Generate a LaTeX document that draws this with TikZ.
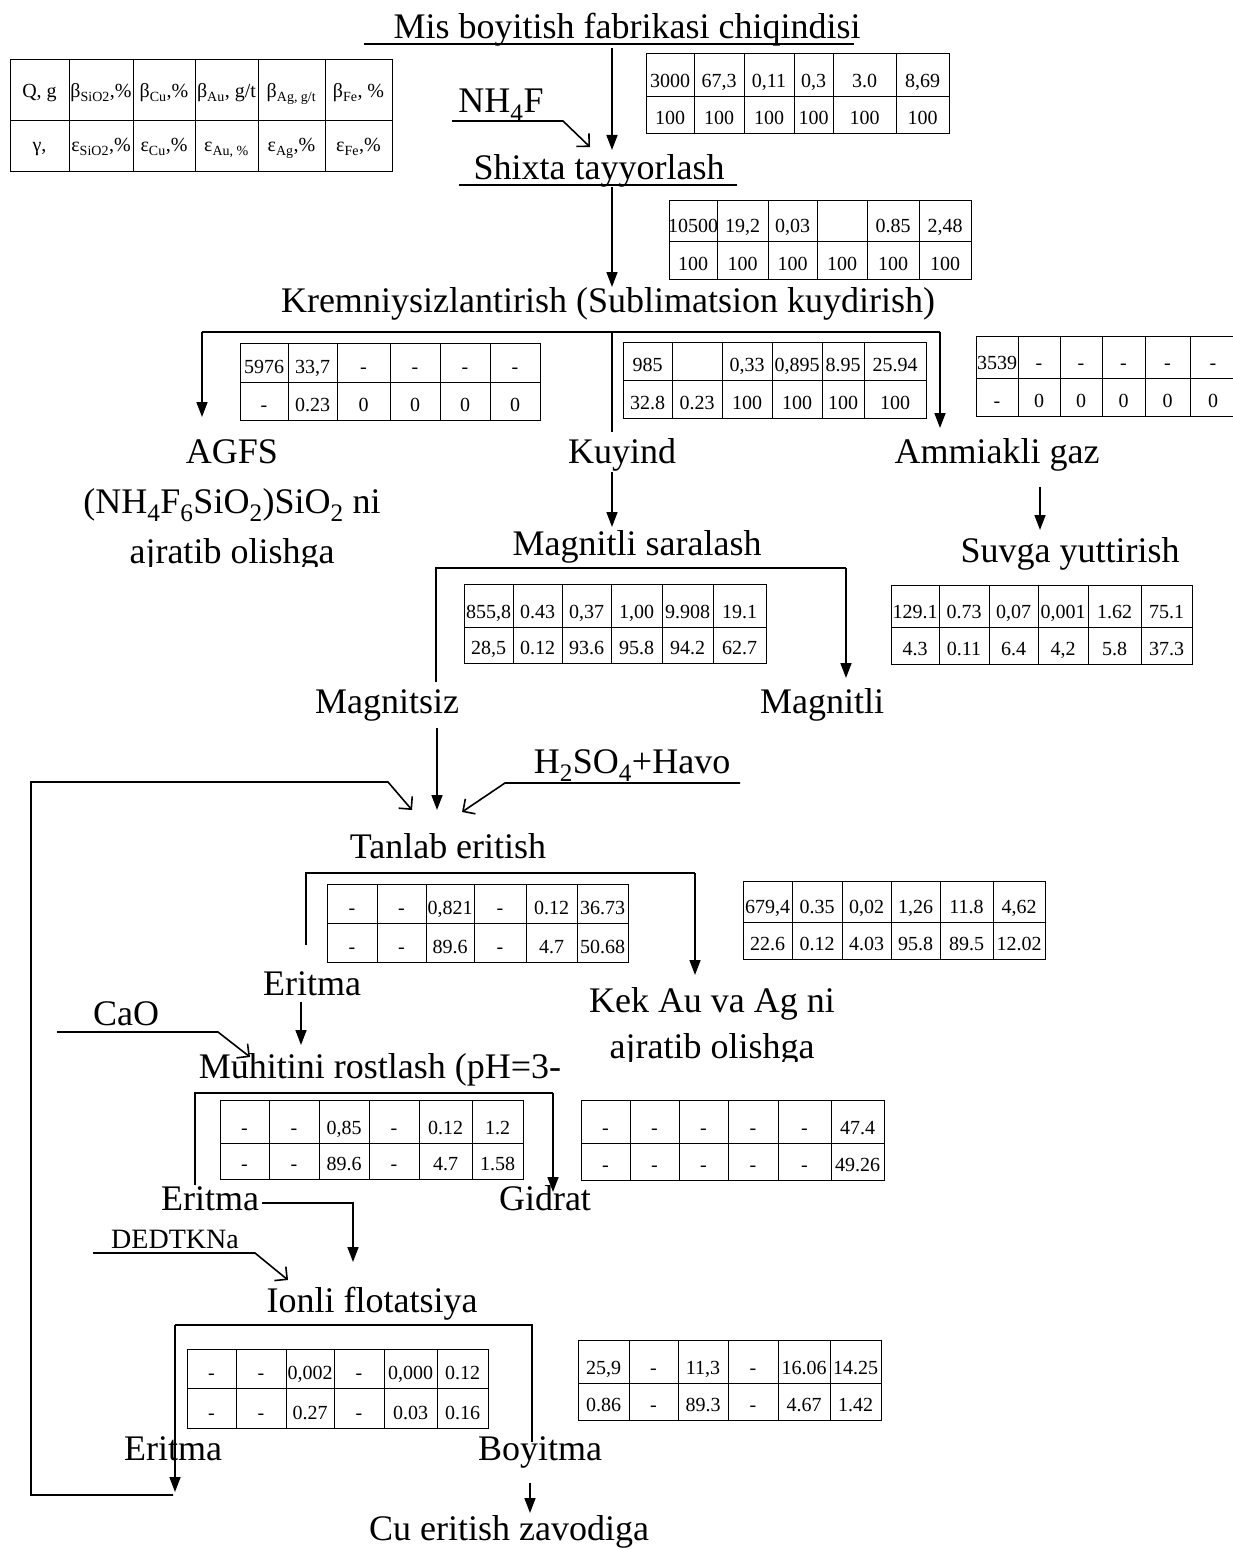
\documentclass[tikz,border=0pt]{standalone}
\usepackage{fontspec}
\setmainfont{Liberation Serif}
\usetikzlibrary{arrows.meta}
\newcommand\setcols[7]{\def\cxa{#1}\def\cxb{#2}\def\cxc{#3}\def\cxd{#4}\def\cxe{#5}\def\cxf{#6}\def\cxg{#7}}
\newcommand\tgrid[3]{%
  \draw[tab] (\cxa,#1) rectangle (\cxg,#3);
  \draw[tab] (\cxa,#2) -- (\cxg,#2);
  \foreach \xx in {\cxb,\cxc,\cxd,\cxe,\cxf} {\draw[tab] (\xx,#1) -- (\xx,#3);}}
\newcommand\trow[8]{%
  \node[cell] (#1a) at ({(\cxa+\cxb)/2},#2) {#3};
  \node[cell] (#1b) at ({(\cxb+\cxc)/2},#2) {#4};
  \node[cell] (#1c) at ({(\cxc+\cxd)/2},#2) {#5};
  \node[cell] (#1d) at ({(\cxd+\cxe)/2},#2) {#6};
  \node[cell] (#1e) at ({(\cxe+\cxf)/2},#2) {#7};
  \node[cell] (#1f) at ({(\cxf+\cxg)/2},#2) {#8};}
\tikzset{
  conn/.style={line width=1.6pt},
  arr/.style={conn,-{Triangle[length=15pt,width=11pt]}},
  barb/.style={conn,-{Straight Barb[length=9pt,width=18pt,line width=1.6pt]}},
  tab/.style={line width=1pt},
  lab/.style={font=\fontsize{36}{40}\selectfont,inner sep=0pt,anchor=base},
  smlab/.style={font=\fontsize{28}{32}\selectfont,inner sep=0pt,anchor=base},
  cell/.style={font=\fontsize{20}{22}\selectfont,inner sep=0pt,anchor=base},
}
\begin{document}
\begin{tikzpicture}[x=1pt,y=-1pt]
\fill[white] (0,0) rectangle (1232,1549);
\useasboundingbox (0,0) rectangle (1232,1549);

% ---------- labels ----------
\node[lab] (title) at (627,39) {Mis boyitish fabrikasi chiqindisi};
\draw[line width=1.3pt] (364,44) -- (854,44);
\node[lab] (nh4f) at (501,113) {NH\textsubscript{4}F};
\node[lab] (shixta) at (599,180) {Shixta tayyorlash};
\draw[line width=1.3pt] (459,185) -- (737,185);
\node[lab] (krem) at (608,312) {Kremniysizlantirish (Sublimatsion kuydirish)};
\node[lab] (agfs) at (232,463) {AGFS};
\node[lab] (agfs2) at (232,513) {(NH\textsubscript{4}F\textsubscript{6}SiO\textsubscript{2})SiO\textsubscript{2} ni};
\begin{scope}
  \clip (100,530) rectangle (370,566);
  \node[lab] (agfs3) at (232,563) {ajratib olishga};
\end{scope}
\node[lab] (kuyind) at (622,463) {Kuyind};
\node[lab] (ammiak) at (997,463) {Ammiakli gaz};
\node[lab] (magsar) at (637,555) {Magnitli saralash};
\node[lab] (suvga) at (1070,562) {Suvga yuttirish};
\node[lab] (magnitsiz) at (387,713) {Magnitsiz};
\node[lab] (magnitli) at (822,713) {Magnitli};
\node[lab] (h2so4) at (632,773) {H\textsubscript{2}SO\textsubscript{4}+Havo};
\node[lab] (tanlab) at (448,858) {Tanlab eritish};
\node[lab] (eritma1) at (312,995) {Eritma};
\node[lab] (kek) at (712,1012) {Kek Au va Ag ni};
\begin{scope}
  \clip (560,1030) rectangle (870,1061);
  \node[lab] (kek2) at (712,1058) {ajratib olishga};
\end{scope}
\node[lab] (cao) at (126,1025) {CaO};
\node[lab] (muhit) at (380,1078) {Muhitini rostlash (pH=3-};
\node[lab] (eritma2) at (210,1210) {Eritma};
\node[lab] (gidrat) at (545,1210) {Gidrat};
\node[smlab] (dedtk) at (175,1248) {DEDTKNa};
\node[lab] (ionli) at (372,1312) {Ionli flotatsiya};
\node[lab] (eritma3) at (173,1460) {Eritma};
\node[lab] (boyitma) at (540,1460) {Boyitma};
\node[lab] (cu) at (509,1540) {Cu eritish zavodiga};

% ---------- coordinates ----------
\coordinate (c1a) at (612,48);   \coordinate (c1b) at (612,150);
\coordinate (n1) at (452,121);   \coordinate (n2) at (563,121);  \coordinate (n3) at (590,147);
\coordinate (c2a) at (612,187);  \coordinate (c2b) at (612,287);
\coordinate (k1) at (202,332);   \coordinate (k2) at (940,332);  \coordinate (km) at (612,332);
\coordinate (k1e) at (202,417);  \coordinate (k2e) at (940,428); \coordinate (kme) at (612,432);
\coordinate (ku1) at (612,472);  \coordinate (ku2) at (612,527);
\coordinate (am1) at (1040,487); \coordinate (am2) at (1040,530);
\coordinate (m1) at (436,568);   \coordinate (m2) at (846,568);
\coordinate (m1e) at (436,682);  \coordinate (m2e) at (846,678);
\coordinate (ms1) at (437,728);  \coordinate (ms2) at (437,810);
\coordinate (r1) at (173,1495);  \coordinate (r2) at (31,1495);  \coordinate (r3) at (31,782);
\coordinate (r4) at (388,782);   \coordinate (r5) at (412,810);
\coordinate (h1) at (740,783);   \coordinate (h2) at (505,783);  \coordinate (h3) at (462,812);
\coordinate (t1) at (306,873);   \coordinate (t2) at (695,873);
\coordinate (t1e) at (306,945);  \coordinate (t2e) at (695,975);
\coordinate (e1a) at (301,1002); \coordinate (e1b) at (301,1045);
\coordinate (ca1) at (57,1032);  \coordinate (ca2) at (218,1032); \coordinate (ca3) at (250,1057);
\coordinate (mu1) at (195,1093); \coordinate (mu2) at (553,1093);
\coordinate (mu1e) at (195,1185);\coordinate (mu2e) at (553,1192);
\coordinate (e2a) at (262,1203); \coordinate (e2b) at (353,1203); \coordinate (e2c) at (353,1262);
\coordinate (d1) at (93,1253);   \coordinate (d2) at (255,1253);  \coordinate (d3) at (288,1280);
\coordinate (i1) at (175,1325);  \coordinate (i2) at (532,1325);
\coordinate (i1e) at (175,1492); \coordinate (i2e) at (532,1442);
\coordinate (b1) at (530,1483);  \coordinate (b2) at (530,1513);

% ---------- connectors ----------
\draw[arr] (c1a) -- (c1b);
\draw[barb] (n1) -- (n2) -- (n3);
\draw[arr] (c2a) -- (c2b);
\draw[conn] (k1) -- (k2);
\draw[arr] (k1) -- (k1e);
\draw[arr] (k2) -- (k2e);
\draw[conn] (km) -- (kme);
\draw[arr] (ku1) -- (ku2);
\draw[arr] (am1) -- (am2);
\draw[conn] (m1e) -- (m1) -- (m2);
\draw[arr] (m2) -- (m2e);
\draw[arr] (ms1) -- (ms2);
\draw[barb] (r1) -- (r2) -- (r3) -- (r4) -- (r5);
\draw[barb] (h1) -- (h2) -- (h3);
\draw[conn] (t1e) -- (t1) -- (t2);
\draw[arr] (t2) -- (t2e);
\draw[arr] (e1a) -- (e1b);
\draw[barb] (ca1) -- (ca2) -- (ca3);
\draw[conn] (mu1e) -- (mu1) -- (mu2);
\draw[arr] (mu2) -- (mu2e);
\draw[arr] (e2a) -- (e2b) -- (e2c);
\draw[barb] (d1) -- (d2) -- (d3);
\draw[conn] (i1) -- (i2) -- (i2e);
\draw[arr] (i1) -- (i1e);
\draw[arr] (b1) -- (b2);

% ---------- tables ----------
\setcols{10}{69}{133}{195}{258}{325}{392}\tgrid{60}{121}{172}
\trow{Lr1}{98}{Q, g}{β\textsubscript{SiO2},\%}{β\textsubscript{Cu},\%}{β\textsubscript{Au}, g/t}{β\textsubscript{Ag, g/t}}{β\textsubscript{Fe}, \%}
\trow{Lr2}{152}{γ,}{ε\textsubscript{SiO2},\%}{ε\textsubscript{Cu},\%}{ε\textsubscript{Au, \%}}{ε\textsubscript{Ag},\%}{ε\textsubscript{Fe},\%}

\setcols{646}{694}{744}{794}{833}{896}{949}\tgrid{54}{97}{134}
\trow{Ar1}{88}{3000}{67,3}{0,11}{0,3}{3.0}{8,69}
\trow{Ar2}{125}{100}{100}{100}{100}{100}{100}

\setcols{669}{717}{768}{817}{867}{919}{971}\tgrid{201}{241}{279}
\trow{Br1}{232}{10500}{19,2}{0,03}{}{0.85}{2,48}
\trow{Br2}{270}{100}{100}{100}{100}{100}{100}

\setcols{240}{288}{337}{390}{440}{490}{540}\tgrid{343}{382}{420}
\trow{Cr1}{373}{5976}{33,7}{-}{-}{-}{-}
\trow{Cr2}{411}{-}{0.23}{0}{0}{0}{0}

\setcols{623}{672}{722}{772}{822}{864}{926}\tgrid{342}{380}{418}
\trow{Dr1}{371}{985}{}{0,33}{0,895}{8.95}{25.94}
\trow{Dr2}{409}{32.8}{0.23}{100}{100}{100}{100}

\setcols{976}{1018}{1060}{1102}{1145}{1190}{1236}\tgrid{336}{378}{416}
\trow{Er1}{369}{3539}{-}{-}{-}{-}{-}
\trow{Er2}{407}{-}{0}{0}{0}{0}{0}

\setcols{464}{513}{562}{611}{662}{713}{766}\tgrid{584}{627}{663}
\trow{Fr1}{618}{855,8}{0.43}{0,37}{1,00}{9.908}{19.1}
\trow{Fr2}{654}{28,5}{0.12}{93.6}{95.8}{94.2}{62.7}

\setcols{891}{939}{989}{1038}{1088}{1141}{1192}\tgrid{585}{627}{664}
\trow{Gr1}{618}{129.1}{0.73}{0,07}{0,001}{1.62}{75.1}
\trow{Gr2}{655}{4.3}{0.11}{6.4}{4,2}{5.8}{37.3}

\setcols{327}{377}{426}{474}{526}{577}{628}\tgrid{884}{923}{962}
\trow{Hr1}{914}{-}{-}{0,821}{-}{0.12}{36.73}
\trow{Hr2}{953}{-}{-}{89.6}{-}{4.7}{50.68}

\setcols{743}{792}{842}{891}{940}{993}{1045}\tgrid{881}{922}{959}
\trow{Ir1}{913}{679,4}{0.35}{0,02}{1,26}{11.8}{4,62}
\trow{Ir2}{950}{22.6}{0.12}{4.03}{95.8}{89.5}{12.02}

\setcols{220}{269}{319}{369}{419}{472}{523}\tgrid{1100}{1143}{1179}
\trow{Jr1}{1134}{-}{-}{0,85}{-}{0.12}{1.2}
\trow{Jr2}{1170}{-}{-}{89.6}{-}{4.7}{1.58}

\setcols{581}{630}{679}{728}{778}{831}{884}\tgrid{1100}{1143}{1180}
\trow{Kr1}{1134}{-}{-}{-}{-}{-}{47.4}
\trow{Kr2}{1171}{-}{-}{-}{-}{-}{49.26}

\setcols{187}{236}{286}{334}{384}{437}{488}\tgrid{1349}{1388}{1428}
\trow{Mr1}{1379}{-}{-}{0,002}{-}{0,000}{0.12}
\trow{Mr2}{1419}{-}{-}{0.27}{-}{0.03}{0.16}

\setcols{578}{629}{678}{728}{778}{830}{881}\tgrid{1340}{1383}{1420}
\trow{Nr1}{1374}{25,9}{-}{11,3}{-}{16.06}{14.25}
\trow{Nr2}{1411}{0.86}{-}{89.3}{-}{4.67}{1.42}
\end{tikzpicture}
\end{document}
